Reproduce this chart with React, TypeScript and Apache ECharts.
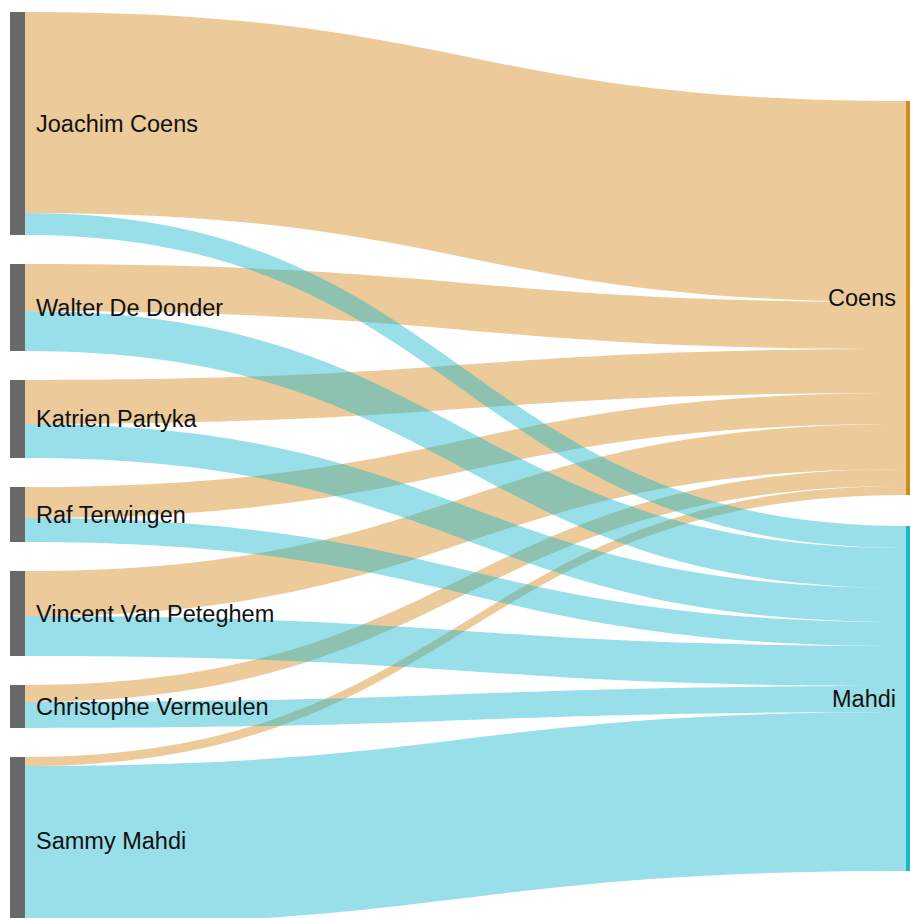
import React, { useEffect, useRef } from "react";
import * as echarts from "echarts";

const sources = [
  "Joachim Coens",
  "Walter De Donder",
  "Katrien Partyka",
  "Raf Terwingen",
  "Vincent Van Peteghem",
  "Christophe Vermeulen",
  "Sammy Mahdi",
];
const targets = ["Coens", "Mahdi"];
const toCoens = [201, 47, 44, 31, 45, 17, 9];
const toMahdi = [22, 40, 34, 24, 40, 26, 159];

const targetColors = ["#d4891c", "#1bb8ce"];
const sourceColor = "#696969";

// layout constants (pixels within the chart area)
const CHART_W = 910;
const CHART_H = 918;
const TOP = 12;
const BOTTOM = -7;
const LAYOUT_H = CHART_H - TOP - BOTTOM;
const RIGHT_NODE_TOPS = [89, 514];

export default function App() {
  const ref = useRef<HTMLDivElement>(null);
  useEffect(() => {
    if (!ref.current) return;
    const chart = echarts.init(ref.current, undefined, { renderer: "svg" });
    const nodes: any[] = [
      ...sources.map((name) => ({
        name,
        depth: 0,
        itemStyle: { color: sourceColor, borderWidth: 0 },
        label: { position: "right", distance: 11 },
      })),
      ...targets.map((name, i) => ({
        name,
        depth: 1,
        localY: RIGHT_NODE_TOPS[i] / LAYOUT_H,
        itemStyle: { color: targetColors[i], borderWidth: 0 },
        label: { position: "left", distance: 10 },
      })),
    ];
    const links: any[] = [
      ...sources.map((s, i) => ({ source: s, target: targets[0], value: toCoens[i] })),
      ...sources.map((s, i) => ({ source: s, target: targets[1], value: toMahdi[i] })),
    ];
    chart.setOption({
      animation: false,
      series: [
        {
          type: "sankey",
          left: 10,
          right: -11,
          top: TOP,
          bottom: BOTTOM,
          nodeWidth: 15,
          nodeGap: 29,
          layoutIterations: 0,
          draggable: false,
          emphasis: { disabled: true },
          data: nodes,
          links,
          label: {
            color: "#111",
            fontFamily: "Liberation Sans, Arial, sans-serif",
            fontSize: 23.5,
          },
          lineStyle: { color: "target", opacity: 0.45, curveness: 0.5 },
        },
      ],
    });
    return () => chart.dispose();
  }, []);
  return (
    <div
      ref={ref}
      style={{
        position: "fixed",
        left: 0,
        top: 0,
        width: CHART_W,
        height: CHART_H,
        background: "#fff",
      }}
    />
  );
}
